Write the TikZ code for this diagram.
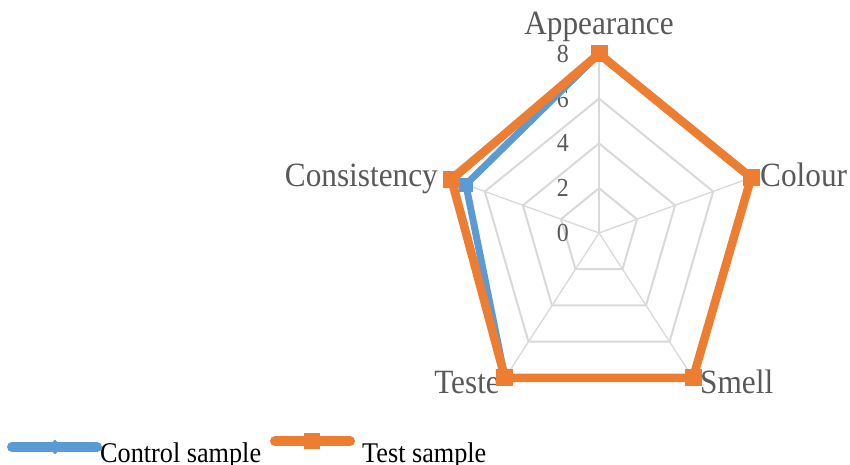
\documentclass[tikz,border=0pt]{standalone}
\usepackage{fontspec}
\setmainfont{Liberation Serif}
\usetikzlibrary{shapes.geometric}
\definecolor{gridc}{HTML}{D9D9D9}
\definecolor{ctrl}{HTML}{5B9BD5}
\definecolor{test}{HTML}{ED7D31}
\definecolor{labc}{HTML}{595959}
\newcommand\sqz[1]{\scalebox{0.92}[1]{#1}}
\begin{document}
\begin{tikzpicture}[x=1pt,y=-1pt,
  gridline/.style={draw=gridc,line width=2pt,line join=round},
  spoke/.style={draw=gridc,line width=1.3pt},
  ctrlline/.style={draw=ctrl,line width=7pt,line join=round},
  testline/.style={draw=test,line width=8.5pt,line join=round},
  ctrlmark/.style={fill=ctrl,draw=none,minimum size=14pt,inner sep=0pt},
  testmark/.style={fill=test,draw=none,minimum size=17pt,inner sep=0pt},
  axlabel/.style={text=labc,font=\fontsize{34}{34}\selectfont,inner sep=0pt},
  numlabel/.style={text=labc,font=\fontsize{26}{26}\selectfont,inner sep=0pt,anchor=east},
  leglabel/.style={text=black,font=\fontsize{28.5}{28.5}\selectfont,inner sep=0pt,anchor=base west}]
\useasboundingbox (0,0) rectangle (850,465);
\def\cx{599}\def\cy{233}\def\rx{20}\def\ry{22.4}
% grid rings
\foreach \r in {2,4,6,8}{
  \draw[gridline] ({\cx+\r*\rx*cos(90)},{\cy-\r*\ry*sin(90)})
    -- ({\cx+\r*\rx*cos(18)},{\cy-\r*\ry*sin(18)})
    -- ({\cx+\r*\rx*cos(-54)},{\cy-\r*\ry*sin(-54)})
    -- ({\cx+\r*\rx*cos(-126)},{\cy-\r*\ry*sin(-126)})
    -- ({\cx+\r*\rx*cos(162)},{\cy-\r*\ry*sin(162)}) -- cycle;
}
\coordinate (O) at (\cx,\cy);
\foreach \a in {90,18,-54,-126,162}{
  \draw[spoke] (O) -- ({\cx+8*\rx*cos(\a)},{\cy-8*\ry*sin(\a)});
}
% scale numbers
\foreach \v in {0,2,4,6,8}{
  \node[numlabel] (n\v) at (569,{\cy-\v*\ry}) {\sqz{\v}};
}
% data points
\coordinate (c1) at ({\cx+8*\rx*cos(90)},{\cy-8*\ry*sin(90)});
\coordinate (c2) at ({\cx+8*\rx*cos(18)},{\cy-8*\ry*sin(18)});
\coordinate (c3) at ({\cx+8*\rx*cos(-54)},{\cy-8*\ry*sin(-54)});
\coordinate (c4) at ({\cx+8*\rx*cos(-126)},{\cy-8*\ry*sin(-126)});
\coordinate (c5) at ({\cx+7*\rx*cos(162)},{\cy-7*\ry*sin(162)});
\coordinate (t1) at ({\cx+8*\rx*cos(90)},{\cy-8*\ry*sin(90)});
\coordinate (t2) at ({\cx+8*\rx*cos(18)},{\cy-8*\ry*sin(18)});
\coordinate (t3) at ({\cx+8*\rx*cos(-54)},{\cy-8*\ry*sin(-54)});
\coordinate (t4) at ({\cx+8*\rx*cos(-126)},{\cy-8*\ry*sin(-126)});
\coordinate (t5) at ({\cx+7.75*\rx*cos(162)},{\cy-7.75*\ry*sin(162)});
% axis labels
\node[axlabel,anchor=base] (lapp) at (599,35) {\sqz{Appearance}};
\node[axlabel,anchor=base west] (lcol) at (760,186) {\sqz{Colour}};
\node[axlabel,anchor=base west] (lsme) at (700,393) {\sqz{Smell}};
\node[axlabel,anchor=base east] (ltes) at (500,393) {\sqz{Teste}};
\node[axlabel,anchor=base east] (lcon) at (438,186) {\sqz{Consistency}};
% control series
\draw[ctrlline] (c1) -- (c2) -- (c3) -- (c4) -- (c5) -- cycle;
\foreach \p in {c1,c2,c3,c4,c5}{\node[ctrlmark] at (\p) {};}
% test series
\draw[testline] (t1) -- (t2) -- (t3) -- (t4) -- (t5) -- cycle;
\foreach \p in {t1,t2,t3,t4,t5}{\node[testmark] at (\p) {};}
% legend
\coordinate (lb1) at (12,447);
\coordinate (lb2) at (97,447);
\draw[draw=ctrl,line width=10pt,line cap=round] (lb1) -- (lb2);
\node[fill=ctrl,diamond,minimum size=15pt,inner sep=0pt] (lbm) at (55,447) {};
\node[leglabel] (lbt) at (100,462) {\sqz{Control sample}};
\coordinate (lo1) at (275,441);
\coordinate (lo2) at (350,441);
\draw[draw=test,line width=10pt,line cap=round] (lo1) -- (lo2);
\node[testmark,minimum size=16pt] (lom) at (312,441) {};
\node[leglabel] (lot) at (362,462) {\sqz{Test sample}};
\end{tikzpicture}
\end{document}
